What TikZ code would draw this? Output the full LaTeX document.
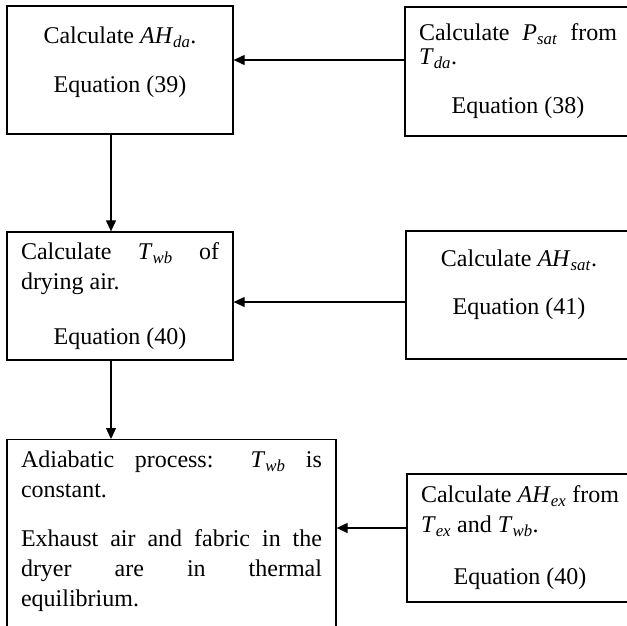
\documentclass[tikz,border=0pt]{standalone}
\usepackage{fontspec}
\setmainfont{Liberation Serif}
\usetikzlibrary{arrows.meta}
\newcommand{\mvar}[2]{\textit{#1}\textsubscript{\textit{#2}}}
\newcommand{\tailgap}[1]{\par\vspace{#1}\nointerlineskip\hbox{}}

\begin{document}
\begin{tikzpicture}[x=1pt,y=-1pt,
  box/.style={draw,line width=1.3pt,inner xsep=14pt,inner ysep=4pt,text width=198pt,
    align=justify,font=\fontsize{24}{30}\selectfont},
  >={Triangle[length=11pt,width=10pt]}]
\clip (0,0) rectangle (627,625);
\node[box,minimum height=128pt] (ahda) at (120,70) {\centering Calculate \mvar{AH}{da}.\par\vspace{19pt}Equation (39)\tailgap{16pt}};
\node[box,minimum height=129pt] (psat) at (518,71.5) {{\fontsize{24}{24}\selectfont Calculate \mvar{P}{sat} from\linebreak \mvar{T}{da}.\par}\vspace{19pt}\centering Equation (38)\par};
\node[box,minimum height=128pt] (twb) at (120,296) {Calculate \mvar{T}{wb} of\linebreak drying air.\par\vspace{25pt}\centering Equation (40)\par};
\node[box,minimum height=128pt] (ahsat) at (519,295) {\centering Calculate \mvar{AH}{sat}.\par\vspace{18pt}Equation (41)\tailgap{20pt}};
\node[box,text width=301pt,inner ysep=11.6pt,anchor=north] (adiab) at (171.5,439) {Adiabatic process: \mvar{T}{wb} is\linebreak constant.\par\vspace{19pt}Exhaust air and fabric in the\linebreak dryer are in thermal\linebreak equilibrium.\tailgap{60pt}};
\node[box,minimum height=128pt] (ahex) at (520,538) {Calculate \mvar{AH}{ex} from\linebreak \mvar{T}{ex} and \mvar{T}{wb}.\par\vspace{22pt}\centering Equation (40)\par};
\coordinate (c1) at ([yshift=11.5pt]psat.west);
\coordinate (c2) at ([yshift=-7pt]ahsat.west);
\coordinate (c3) at ([yshift=10pt]ahex.west);
\coordinate (d1) at ([xshift=-9pt]ahda.south);
\coordinate (d2) at ([xshift=-9pt]twb.south);
\path[->,line width=1.2pt] (c1) edge (c1 -| ahda.east) (c2) edge (c2 -| twb.east) (c3) edge (c3 -| adiab.east);
\path[->,line width=1.2pt] (d1) edge (d1 |- twb.north) (d2) edge (d2 |- adiab.north);
\end{tikzpicture}
\end{document}
